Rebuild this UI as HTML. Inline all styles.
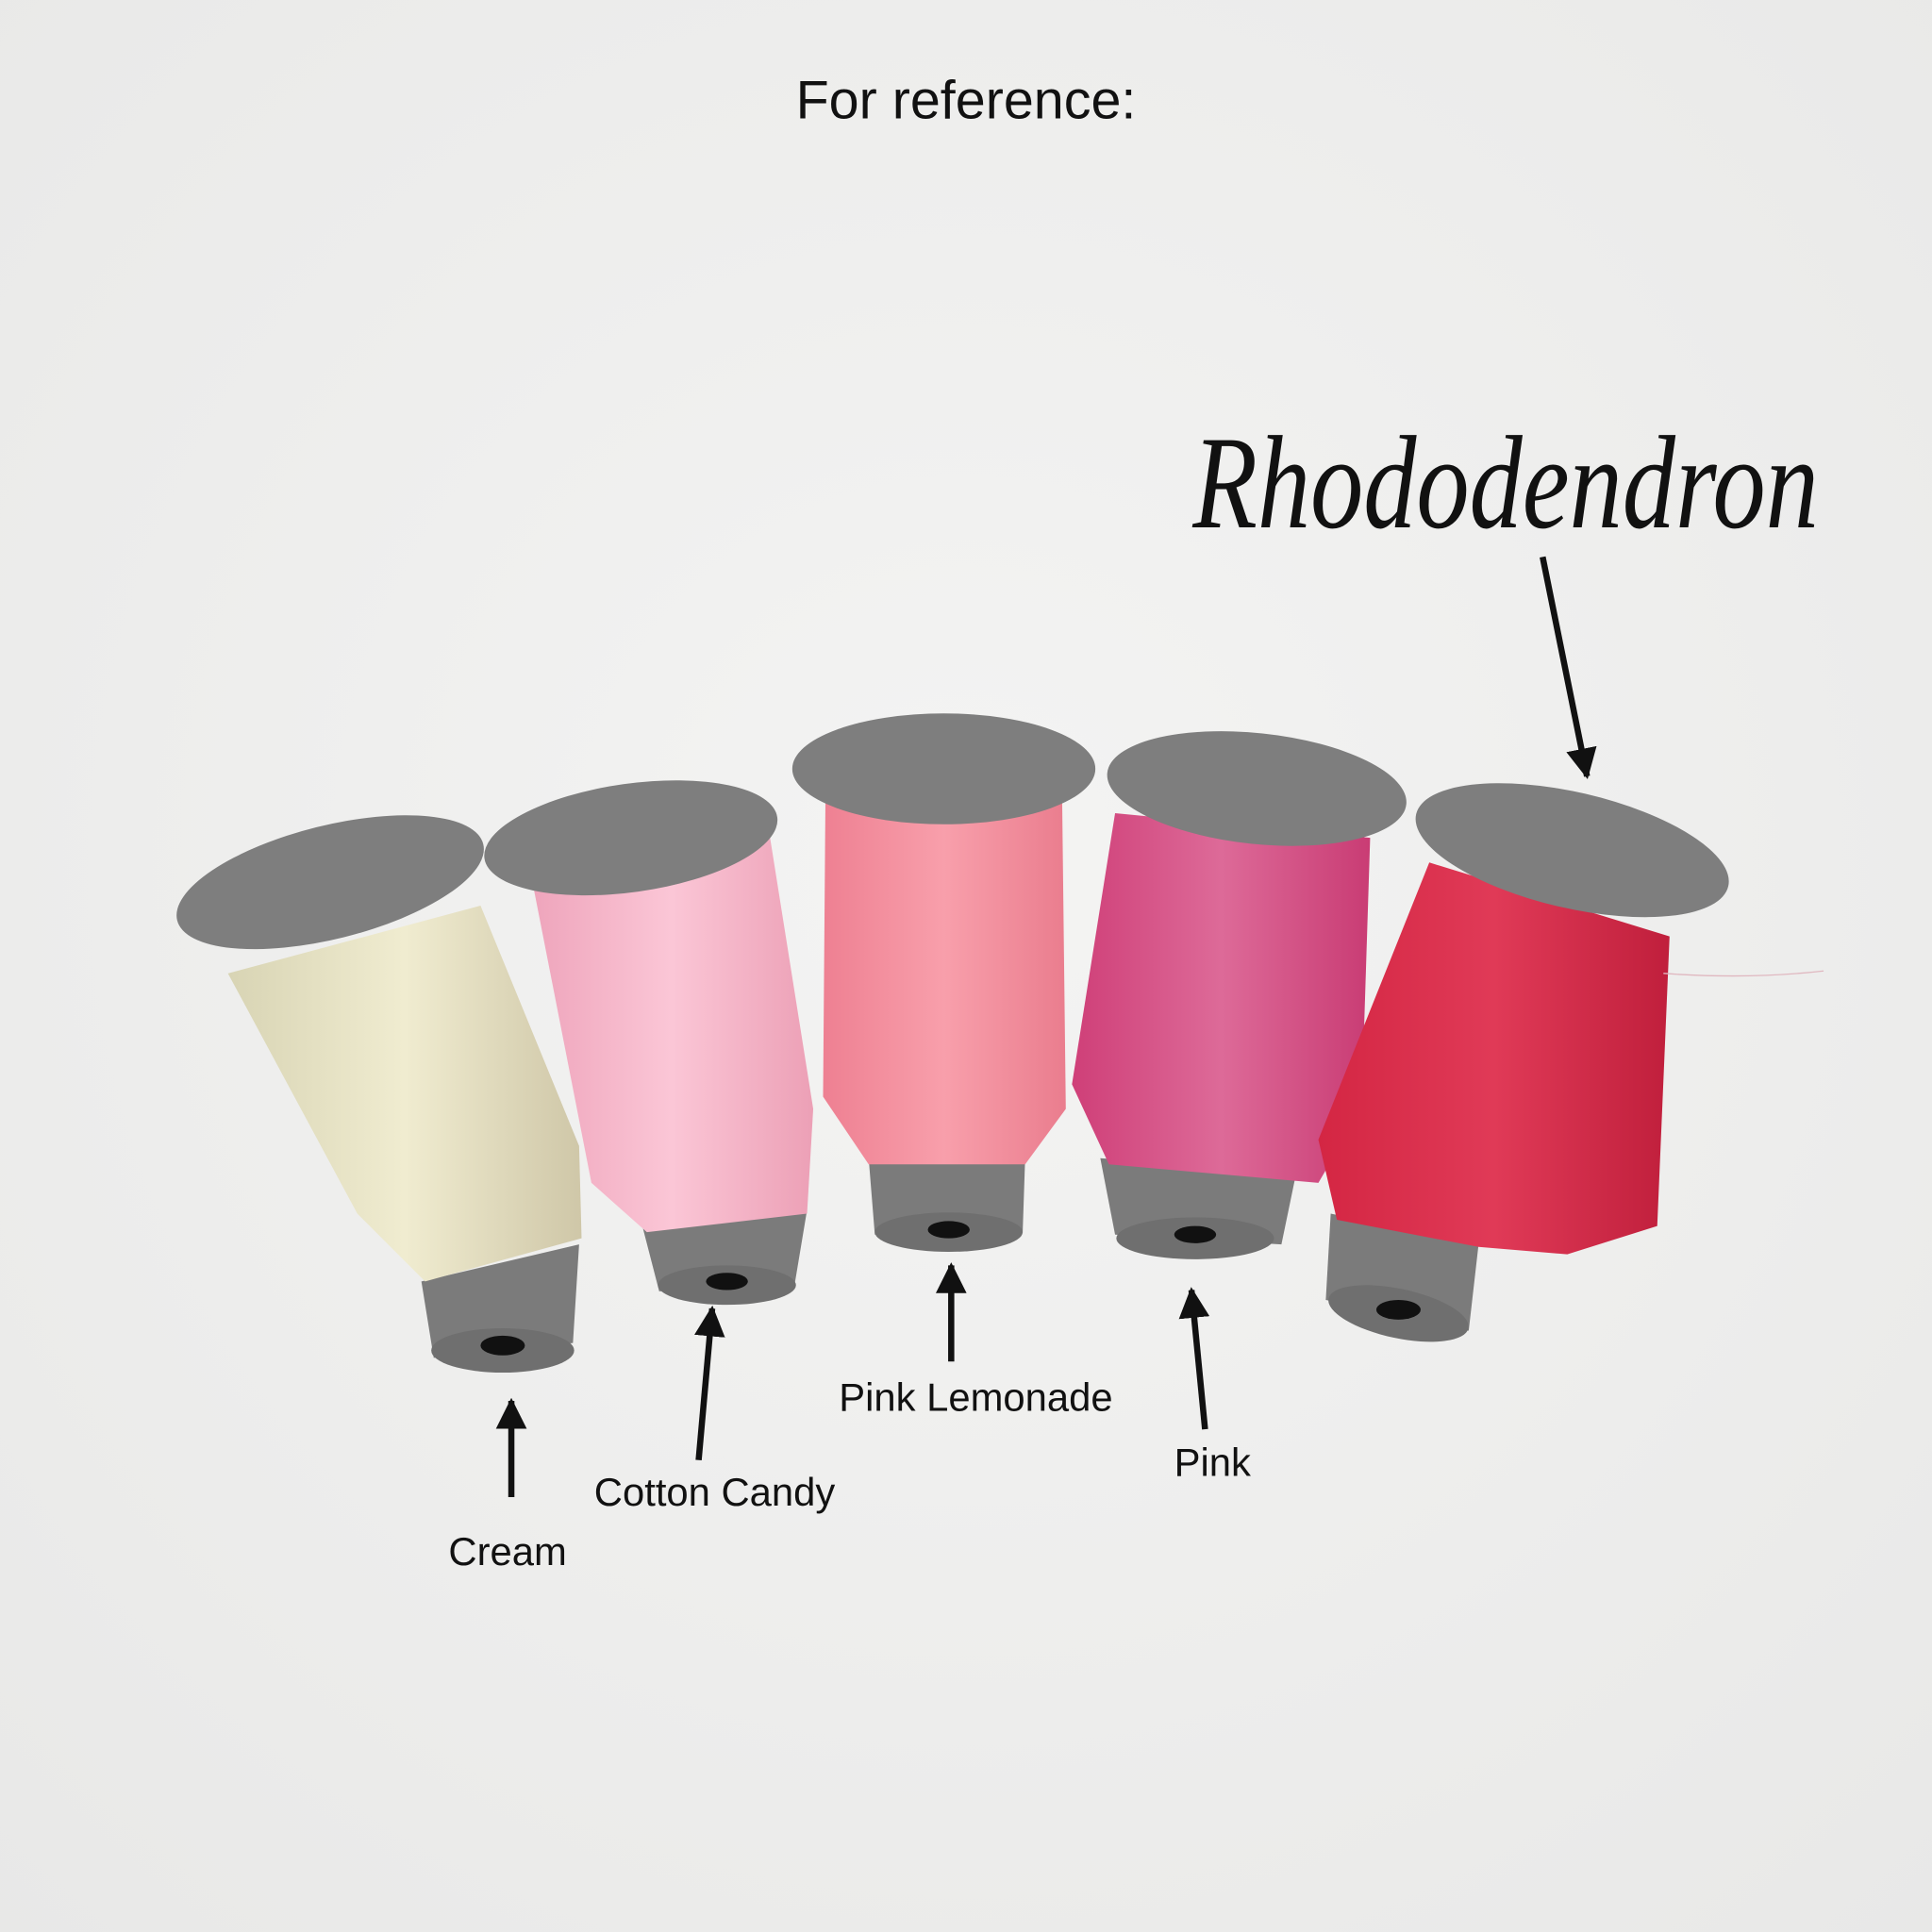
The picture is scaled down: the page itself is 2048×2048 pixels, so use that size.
<!DOCTYPE html>
<html><head><meta charset="utf-8"><style>
html,body{margin:0;padding:0;background:#efefee;}
svg{display:block}
</style></head><body>
<svg width="2048" height="2048" viewBox="0 0 1568 1568" xmlns="http://www.w3.org/2000/svg">
<defs>
<radialGradient id="bg" cx="50%" cy="45%" r="75%"><stop offset="0" stop-color="#f4f4f3"/><stop offset="1" stop-color="#e8e8e7"/></radialGradient>
<linearGradient id="c1" x1="0" x2="1"><stop offset="0" stop-color="#d8d4b4"/><stop offset="0.5" stop-color="#f0ecd0"/><stop offset="1" stop-color="#cfc7a8"/></linearGradient>
<linearGradient id="c2" x1="0" x2="1"><stop offset="0" stop-color="#eea4bb"/><stop offset="0.5" stop-color="#fbc6d6"/><stop offset="1" stop-color="#eca0b6"/></linearGradient>
<linearGradient id="c3" x1="0" x2="1"><stop offset="0" stop-color="#ee8092"/><stop offset="0.5" stop-color="#f89fab"/><stop offset="1" stop-color="#ea7d8e"/></linearGradient>
<linearGradient id="c4" x1="0" x2="1"><stop offset="0" stop-color="#cf3f78"/><stop offset="0.5" stop-color="#dd6a98"/><stop offset="1" stop-color="#c93c74"/></linearGradient>
<linearGradient id="c5" x1="0" x2="1"><stop offset="0" stop-color="#d42643"/><stop offset="0.5" stop-color="#e03a57"/><stop offset="1" stop-color="#c01f3c"/></linearGradient>
<marker id="ah" viewBox="0 0 10 10" refX="9" refY="5" markerWidth="5" markerHeight="5" orient="auto"><path d="M0,0 L10,5 L0,10 z" fill="#111"/></marker>
</defs>
<rect width="1568" height="1568" fill="url(#bg)"/>
<text x="784" y="96" text-anchor="middle" font-family="Liberation Sans, sans-serif" font-size="44" fill="#111">For reference:</text>
<text x="968" y="428" textLength="508" lengthAdjust="spacingAndGlyphs" font-family="Liberation Serif, serif" font-style="italic" font-size="108" fill="#111">Rhododendron</text>
<line x1="1252" y1="452" x2="1288" y2="630" stroke="#111" stroke-width="5" marker-end="url(#ah)"/>

<!-- spool 1 -->
<g>
<path d="M342,1040 L470,1010 L465,1090 L352,1102 Z" fill="#7b7b7b"/>
<ellipse cx="408" cy="1096" rx="58" ry="18" fill="#6f6f6f"/>
<ellipse cx="408" cy="1092" rx="18" ry="8" fill="#111"/>
<path d="M185,790 L390,735 L470,930 L472,1005 L345,1040 L290,985 Z" fill="url(#c1)"/>
<ellipse cx="268" cy="716" rx="128" ry="46" transform="rotate(-14 268 716)" fill="#7e7e7e"/>
</g>
<!-- spool 2 -->
<g>
<path d="M520,990 L655,982 L645,1042 L535,1048 Z" fill="#7b7b7b"/>
<ellipse cx="590" cy="1043" rx="56" ry="16" fill="#6f6f6f"/>
<ellipse cx="590" cy="1040" rx="17" ry="7" fill="#111"/>
<path d="M430,705 L625,680 L660,900 L655,985 L525,1000 L480,960 Z" fill="url(#c2)"/>
<ellipse cx="512" cy="680" rx="120" ry="44" transform="rotate(-8 512 680)" fill="#7e7e7e"/>
</g>
<!-- spool 3 -->
<g>
<path d="M705,940 L832,940 L830,1000 L710,1002 Z" fill="#7b7b7b"/>
<ellipse cx="770" cy="1000" rx="60" ry="16" fill="#6f6f6f"/>
<ellipse cx="770" cy="998" rx="17" ry="7" fill="#111"/>
<path d="M670,640 L862,645 L865,900 L832,945 L705,945 L668,890 Z" fill="url(#c3)"/>
<ellipse cx="766" cy="624" rx="123" ry="45" fill="#7e7e7e"/>
</g>
<!-- spool 4 -->
<g>
<path d="M893,940 L1052,952 L1040,1010 L905,1002 Z" fill="#7b7b7b"/>
<ellipse cx="970" cy="1005" rx="64" ry="17" fill="#6f6f6f"/>
<ellipse cx="970" cy="1002" rx="17" ry="7" fill="#111"/>
<path d="M905,660 L1112,680 L1105,900 L1070,960 L900,945 L870,880 Z" fill="url(#c4)"/>
<ellipse cx="1020" cy="640" rx="122" ry="45" transform="rotate(6 1020 640)" fill="#7e7e7e"/>
</g>
<!-- spool 5 -->
<g>
<path d="M1080,985 L1200,1010 L1192,1080 L1076,1055 Z" fill="#7b7b7b"/>
<ellipse cx="1135" cy="1066" rx="58" ry="20" transform="rotate(12 1135 1066)" fill="#6f6f6f"/>
<ellipse cx="1135" cy="1063" rx="18" ry="8" fill="#111"/>
<path d="M1160,700 L1355,760 L1345,995 L1272,1018 L1200,1012 L1085,990 L1070,925 Z" fill="url(#c5)"/>
<ellipse cx="1276" cy="690" rx="130" ry="47" transform="rotate(13 1276 690)" fill="#7e7e7e"/>
<path d="M1350,790 Q1420,795 1480,788" stroke="#e0b8c0" stroke-width="1" fill="none"/>
</g>

<g font-family="Liberation Sans, sans-serif" font-size="32" fill="#111" text-anchor="middle">
<text x="412" y="1270">Cream</text>
<text x="580" y="1222">Cotton Candy</text>
<text x="792" y="1145">Pink Lemonade</text>
<text x="984" y="1198">Pink</text>
</g>
<g stroke="#111" stroke-width="5" marker-end="url(#ah)">
<line x1="415" y1="1215" x2="415" y2="1137"/>
<line x1="567" y1="1185" x2="578" y2="1062"/>
<line x1="772" y1="1105" x2="772" y2="1027"/>
<line x1="978" y1="1160" x2="967" y2="1047"/>
</g>
</svg>
</body></html>
